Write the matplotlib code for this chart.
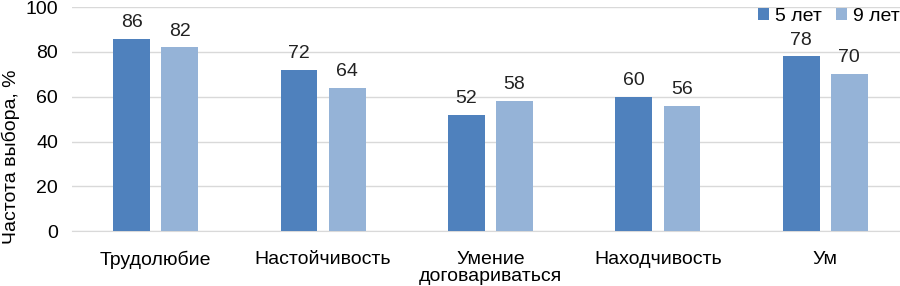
import numpy as np
import matplotlib.pyplot as plt

plt.rcParams['font.family'] = ['Liberation Sans', 'DejaVu Sans']

categories = ["Трудолюбие", "Настойчивость", "Умение\nдоговариваться", "Находчивость", "Ум"]
series_names = ["5 лет", "9 лет"]
vals_5 = [86, 72, 52, 60, 78]
vals_9 = [82, 64, 58, 56, 70]
colors = ["#4F81BD", "#95B3D7"]

fs = 14

fig = plt.figure(figsize=(9, 2.86), dpi=100)
ax = fig.add_axes([0.080, 0.192, 0.930, 0.783])

x = np.arange(len(categories))
w = 0.22
off = 0.1435
b1 = ax.bar(x - off, vals_5, w, color=colors[0], label=series_names[0], zorder=3)
b2 = ax.bar(x + off, vals_9, w, color=colors[1], label=series_names[1], zorder=3)

for bars in (b1, b2):
    for r in bars:
        ax.text(r.get_x() + r.get_width() / 2, r.get_height() + 3.5, f"{int(r.get_height())}",
                ha="center", va="bottom", fontsize=fs, color="#222222")

ax.set_xlim(-0.5, len(categories) - 0.5)
ax.set_ylim(0, 100)
ax.set_yticks(range(0, 101, 20))
ax.set_xticks(x)
ax.set_xticklabels(categories, fontsize=fs, linespacing=1.0)
ax.tick_params(axis="y", labelsize=fs, length=0, pad=10)
ax.tick_params(axis="x", length=0, pad=14)
ax.yaxis.grid(True, color="#D9D9D9", linewidth=1, zorder=0)
for s in ["top", "right", "left"]:
    ax.spines[s].set_visible(False)
ax.spines["bottom"].set_color("#D9D9D9")
ax.set_ylabel("Частота выбора, %", fontsize=fs)
ax.yaxis.set_label_coords(-0.062, 0.33)

ax.legend(loc="upper right", bbox_to_anchor=(0.998, 1.03), ncol=2, frameon=False,
          fontsize=fs, handlelength=0.55, handleheight=0.55, handletextpad=0.3,
          columnspacing=0.75, borderaxespad=0)

fig.savefig("out.png", dpi=100)
